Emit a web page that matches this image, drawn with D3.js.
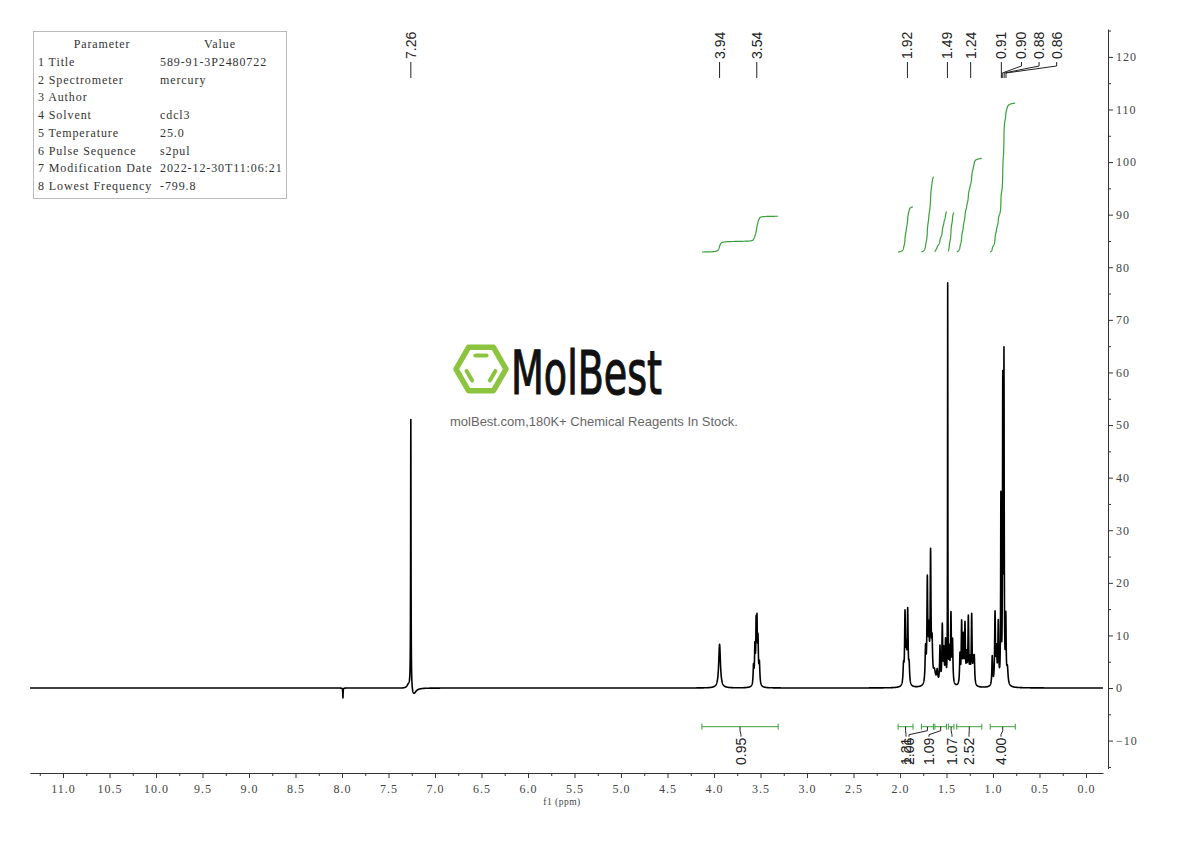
<!DOCTYPE html>
<html>
<head>
<meta charset="utf-8">
<script src="https://cdn.jsdelivr.net/npm/d3@7"></script>
<style>
  body { margin: 0; background: #fff; }
  svg { display: block; }
</style>
</head>
<body>
<svg id="chart" width="1190" height="841"></svg>
<script>
// 1H NMR spectrum.

// Peaks: [ppm, height (axis units), half width at half height (ppm)]
var peaks = [
  [7.99, -1.9, 0.002],
  [7.285, 0.8, 0.02],
  [7.26, 51.5, 0.0024],
  [7.232, -1.4, 0.03],
  [3.94, 8.3, 0.011],
  [3.575, 3.5, 0.005],
  [3.56, 7, 0.005],
  [3.547, 10.5, 0.004],
  [3.538, 10.5, 0.004],
  [3.527, 8, 0.005],
  [3.512, 4, 0.006],
  [1.962, 3.5, 0.006],
  [1.946, 13, 0.005],
  [1.932, 6, 0.006],
  [1.917, 13.5, 0.005],
  [1.902, 3.5, 0.006],
  [1.725, 6.5, 0.006],
  [1.706, 19, 0.005],
  [1.69, 9, 0.006],
  [1.671, 24, 0.005],
  [1.655, 7, 0.006],
  [1.63, 2.5, 0.015],
  [1.60, 2.5, 0.008],
  [1.57, 7, 0.005],
  [1.545, 11, 0.005],
  [1.528, 6, 0.005],
  [1.51, 8, 0.005],
  [1.487, 75.5, 0.0018],
  [1.470, 6, 0.005],
  [1.452, 13, 0.005],
  [1.435, 8, 0.005],
  [1.355, 5.5, 0.005],
  [1.337, 11.5, 0.005],
  [1.319, 8.5, 0.005],
  [1.301, 11, 0.005],
  [1.283, 5, 0.005],
  [1.265, 12.5, 0.005],
  [1.247, 4, 0.005],
  [1.229, 13, 0.005],
  [1.212, 4, 0.005],
  [1.201, 5, 0.005],
  [1.008, 5.5, 0.005],
  [0.978, 13.5, 0.005],
  [0.962, 6, 0.005],
  [0.943, 11.5, 0.005],
  [0.915, 35, 0.003],
  [0.895, 56, 0.003],
  [0.882, 61, 0.003],
  [0.862, 12, 0.004],
  [0.845, 3, 0.008]
];

// Peak labels printed along the top.
var peakLabels = [7.26, 3.94, 3.54, 1.92, 1.49, 1.24, 0.91, 0.90, 0.88, 0.86];

// Integral regions (ppm), printed values and curve levels (axis units).
var integralFrom = [4.13, 2.02, 1.77, 1.625, 1.48, 1.39, 1.03];
var integralTo = [3.31, 1.86, 1.64, 1.50, 1.42, 1.12, 0.76];
var integralValues = [0.95, 1.21, 2.06, 1.09, 1.07, 2.52, 4.00];
var integralTop = [89.7, 91.5, 97.2, 90.6, 90.4, 100.7, 111.2];
var integralBase = 82.9;

// Axis ticks.
var xMajorTicks = d3.range(0, 11.01, 0.5);
var xMinorTicks = d3.range(0.25, 11.3, 0.5);
var yMajorTicks = d3.range(-10, 121, 10);
var yMinorTicks = d3.range(-15, 126, 10);

// Parameter table.
var paramNames = ['1 Title', '2 Spectrometer', '3 Author', '4 Solvent', '5 Temperature',
  '6 Pulse Sequence', '7 Modification Date', '8 Lowest Frequency'];
var paramValues = ['589-91-3P2480722', 'mercury', '', 'cdcl3', '25.0', 's2pul',
  '2022-12-30T11:06:21', '-799.8'];

// Layout: where the software put the integral labels (ppm).
var integralLabelPpm = [3.71, 1.935, 1.903, 1.688, 1.441, 1.258, 0.914];

var svg = d3.select('#chart');
var serifFont = '"Liberation Serif", "Times New Roman", serif';
var sansFont = '"Liberation Sans", Arial, sans-serif';
var green = '#3aa03a';

var x = d3.scaleLinear().domain([11.355, -0.183]).range([30, 1103]);
var y = d3.scaleLinear().domain([-15.3, 125.3]).range([768.5, 29]);
var xAxisY = 773;
var yAxisX = 1108;

function intensity(ppm) {
  var s = 0;
  for (var i = 0; i < peaks.length; i++) {
    var d = ppm - peaks[i][0];
    var w = peaks[i][2];
    s += peaks[i][1] * w * w / (d * d + w * w);
  }
  return s;
}

// Sample the spectrum on a fine grid, plus every peak centre.
var grid = d3.range(x.domain()[0], x.domain()[1], -0.001)
  .concat(peaks.map(function(p) { return p[0]; }))
  .sort(function(a, b) { return b - a; });
var spectrum = grid.map(function(p) { return [p, intensity(p)]; });

var line = d3.line()
  .x(function(d) { return x(d[0]); })
  .y(function(d) { return y(d[1]); });

svg.append('path')
  .datum(spectrum)
  .attr('fill', 'none')
  .attr('stroke', '#000')
  .attr('stroke-width', 1.6)
  .attr('stroke-linejoin', 'round')
  .attr('d', line);

// Integral curves: cumulative area of each region scaled to its levels.
integralFrom.forEach(function(from, i) {
  var pts = spectrum.filter(function(d) { return d[0] <= from && d[0] >= integralTo[i]; });
  var cum = 0;
  var acc = pts.map(function(d) { cum += Math.max(d[1], 0); return cum; });
  var curve = pts.map(function(d, j) {
    return [d[0], integralBase + (integralTop[i] - integralBase) * acc[j] / cum];
  });
  svg.append('path')
    .datum(curve)
    .attr('fill', 'none')
    .attr('stroke', green)
    .attr('stroke-width', 1.2)
    .attr('d', line);
});

// Integral bars with their values.
var barY = 726.7;
var bars = svg.append('g').attr('class', 'integrals');
integralFrom.forEach(function(from, i) {
  var x0 = x(from), x1 = x(integralTo[i]);
  var xc = (x0 + x1) / 2;
  var xl = x(integralLabelPpm[i]);
  bars.append('path')
    .attr('fill', 'none')
    .attr('stroke', green)
    .attr('stroke-width', 1)
    .attr('d', 'M' + x0 + ',' + barY + 'H' + x1 +
      'M' + x0 + ',' + (barY - 3) + 'V' + (barY + 3) +
      'M' + x1 + ',' + (barY - 3) + 'V' + (barY + 3));
  bars.append('path')
    .attr('fill', 'none')
    .attr('stroke', '#222')
    .attr('stroke-width', 1)
    .attr('d', 'M' + xc + ',' + barY + 'V' + (barY + 4) + 'L' + xl + ',' + (barY + 8) + 'V' + (barY + 10));
  bars.append('text')
    .attr('transform', 'translate(' + xl + ',' + (barY + 11) + ') rotate(-90)')
    .attr('text-anchor', 'end')
    .attr('dominant-baseline', 'central')
    .attr('font-family', sansFont)
    .attr('font-size', 14)
    .attr('fill', '#222')
    .text(d3.format('.2f')(integralValues[i]));
});

// Peak labels along the top, pushed apart when they would overlap.
var labelGap = 17.6;
var labelX = [];
peakLabels.forEach(function(p, i) {
  var lx = x(p);
  if (i > 0 && lx < labelX[i - 1] + labelGap) lx = labelX[i - 1] + labelGap;
  labelX.push(lx);
});
var tops = svg.append('g').attr('class', 'peak-labels');
peakLabels.forEach(function(p, i) {
  var px = x(p), lx = labelX[i];
  if (i > 0 && labelX[i - 1] + labelGap >= x(p) - 0.5 && lx !== x(p)) lx += 2.5;
  tops.append('path')
    .attr('fill', 'none')
    .attr('stroke', '#222')
    .attr('stroke-width', 1)
    .attr('d', 'M' + lx + ',62V66L' + px + ',73V78');
  tops.append('text')
    .attr('transform', 'translate(' + lx + ',59) rotate(-90)')
    .attr('text-anchor', 'start')
    .attr('dominant-baseline', 'central')
    .attr('font-family', sansFont)
    .attr('font-size', 14)
    .attr('fill', '#222')
    .text(d3.format('.2f')(p));
});

// Bottom axis.
svg.append('g')
  .attr('transform', 'translate(0,' + xAxisY + ')')
  .call(d3.axisBottom(x)
    .tickValues(xMajorTicks)
    .tickFormat(d3.format('.1f'))
    .tickSize(5)
    .tickSizeOuter(0)
    .tickPadding(6));
svg.append('g')
  .attr('transform', 'translate(0,' + xAxisY + ')')
  .call(d3.axisBottom(x)
    .tickValues(xMinorTicks)
    .tickFormat('')
    .tickSize(3)
    .tickSizeOuter(0))
  .select('.domain').remove();

svg.append('text')
  .attr('x', 562)
  .attr('y', 805)
  .attr('text-anchor', 'middle')
  .attr('font-family', serifFont)
  .attr('font-size', 9.5)
  .attr('letter-spacing', 0.5)
  .attr('fill', '#444')
  .text('f1 (ppm)');

// Right axis.
svg.append('g')
  .attr('transform', 'translate(' + yAxisX + ',0)')
  .call(d3.axisRight(y)
    .tickValues(yMajorTicks)
    .tickSize(5)
    .tickSizeOuter(0)
    .tickPadding(3));
svg.append('g')
  .attr('transform', 'translate(' + yAxisX + ',0)')
  .call(d3.axisRight(y)
    .tickValues(yMinorTicks)
    .tickFormat('')
    .tickSize(3)
    .tickSizeOuter(0))
  .select('.domain').remove();

svg.selectAll('.tick text')
  .attr('font-family', serifFont)
  .attr('font-size', 12)
  .attr('letter-spacing', 1)
  .attr('fill', '#444');
svg.selectAll('.domain, .tick line').attr('stroke', '#333');

// Parameter table.
var table = svg.append('g').attr('class', 'params');
table.append('rect')
  .attr('x', 33.5).attr('y', 31.5)
  .attr('width', 253).attr('height', 167)
  .attr('fill', '#fff')
  .attr('stroke', '#bbb');
var rowY = function(i) { return 44 + i * 17.75; };
table.append('text')
  .attr('x', 102).attr('y', rowY(0))
  .attr('text-anchor', 'middle')
  .text('Parameter');
table.append('text')
  .attr('x', 220).attr('y', rowY(0))
  .attr('text-anchor', 'middle')
  .text('Value');
paramNames.forEach(function(name, i) {
  table.append('text').attr('x', 38).attr('y', rowY(i + 1)).text(name);
  table.append('text').attr('x', 160).attr('y', rowY(i + 1)).text(paramValues[i]);
});
table.selectAll('text')
  .attr('dominant-baseline', 'central')
  .attr('font-family', serifFont)
  .attr('font-size', 12)
  .attr('letter-spacing', 0.9)
  .attr('fill', '#333');

// Watermark logo.
var logo = svg.append('g').attr('class', 'logo');
var cx = 481, cy = 369, R = 25;
var hex = d3.range(6).map(function(i) {
  return [cx + R * Math.cos(i * Math.PI / 3), cy + R * Math.sin(i * Math.PI / 3)];
});
logo.append('polygon')
  .attr('points', hex.map(function(p) { return p.join(','); }).join(' '))
  .attr('fill', 'none')
  .attr('stroke', '#8cc43f')
  .attr('stroke-width', 5.5)
  .attr('stroke-linejoin', 'round');
[[4, 5], [2, 3], [0, 1]].forEach(function(e) {
  var a = hex[e[0]], b = hex[e[1]], k = 0.62, t = 0.14;
  var pa = [cx + k * (a[0] - cx), cy + k * (a[1] - cy)];
  var pb = [cx + k * (b[0] - cx), cy + k * (b[1] - cy)];
  var qa = [pa[0] + t * (pb[0] - pa[0]), pa[1] + t * (pb[1] - pa[1])];
  var qb = [pb[0] + t * (pa[0] - pb[0]), pb[1] + t * (pa[1] - pb[1])];
  logo.append('line')
    .attr('x1', qa[0]).attr('y1', qa[1])
    .attr('x2', qb[0]).attr('y2', qb[1])
    .attr('stroke', '#8cc43f')
    .attr('stroke-width', 4)
    .attr('stroke-linecap', 'round');
});
logo.append('text')
  .attr('x', 511).attr('y', 394)
  .attr('font-family', '"DejaVu Sans", sans-serif')
  .attr('font-size', 60)
  .attr('textLength', 151)
  .attr('lengthAdjust', 'spacingAndGlyphs')
  .attr('fill', '#111')
  .attr('stroke', '#111')
  .attr('stroke-width', 1.2)
  .text('MolBest');
logo.append('text')
  .attr('x', 594).attr('y', 426)
  .attr('text-anchor', 'middle')
  .attr('font-family', sansFont)
  .attr('font-size', 13)
  .attr('fill', '#666')
  .text('molBest.com,180K+ Chemical Reagents In Stock.');
</script>
</body>
</html>
